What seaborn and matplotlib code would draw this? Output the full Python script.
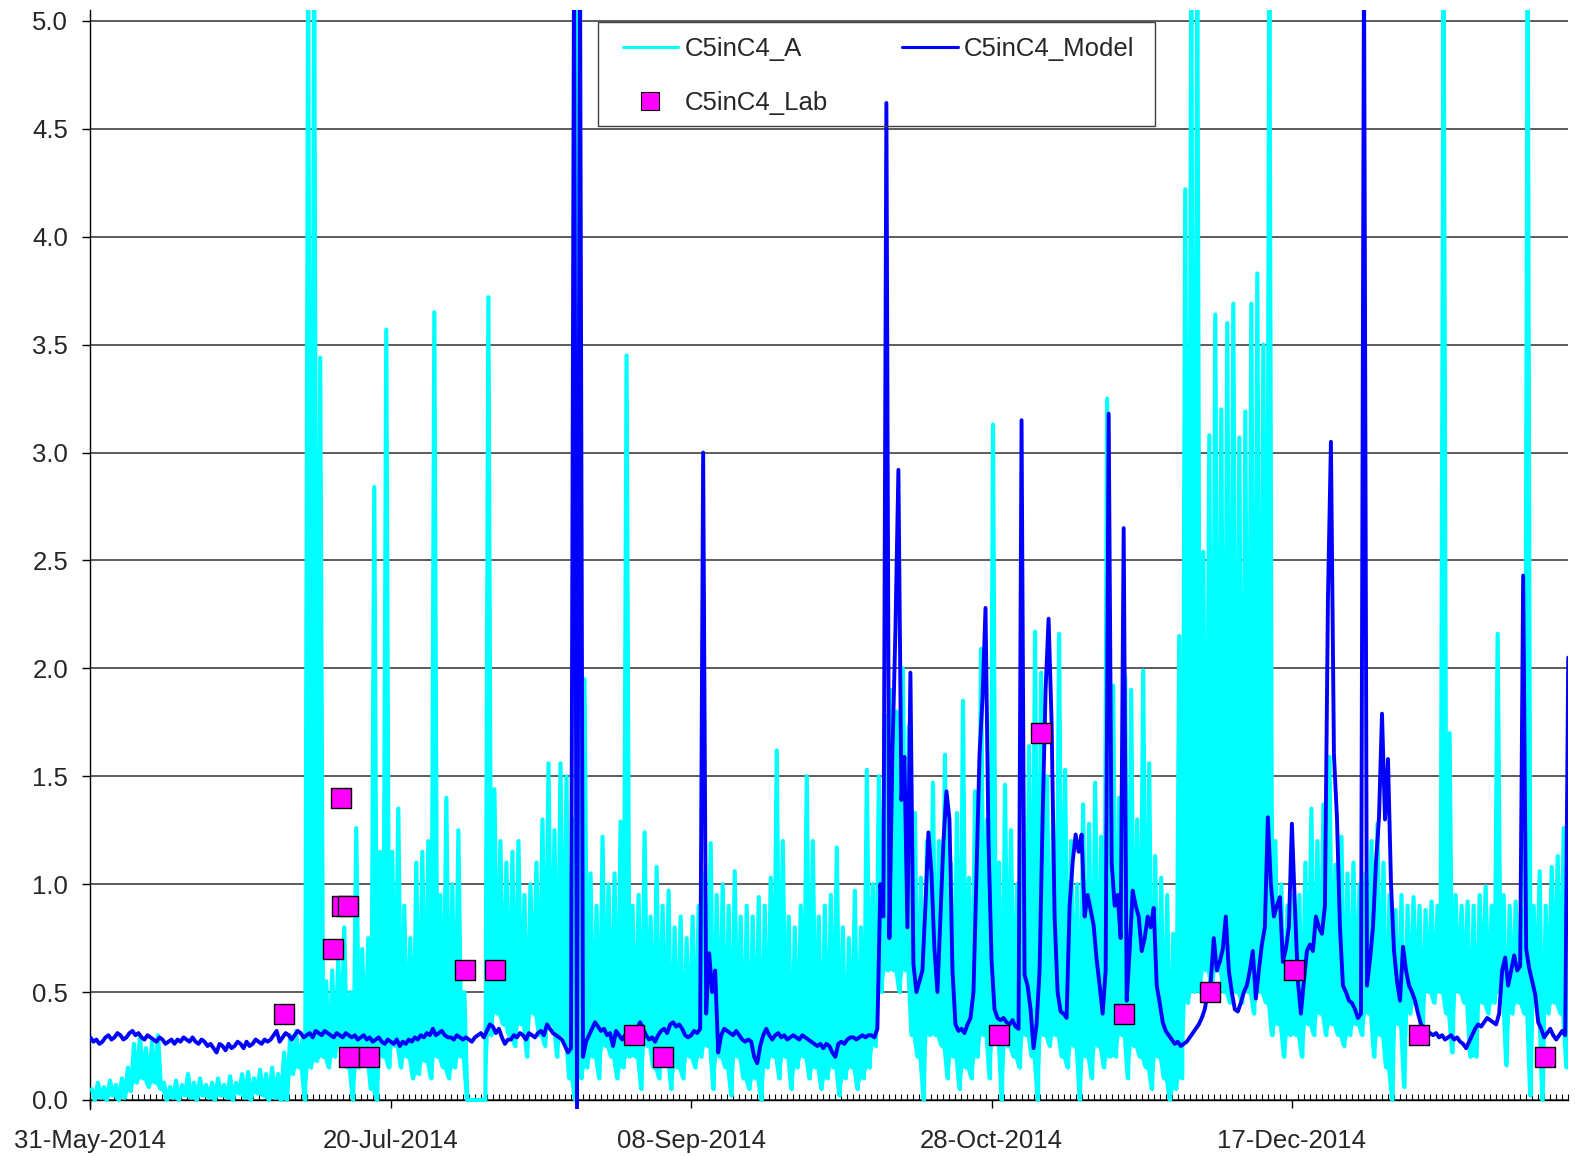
import numpy as np
import pandas as pd
import matplotlib
matplotlib.use("Agg")
import matplotlib.pyplot as plt
import matplotlib.dates as mdates
from matplotlib.lines import Line2D
from matplotlib.patches import Rectangle
import seaborn as sns

# Datas: dias a partir de 31-May-2014
start = pd.Timestamp("2014-05-31")
n_days = 246

# C5inC4_A: máximo e mínimo lidos por dia (dia 0 .. 245)
cyan_hi = [
    0.05, 0.08, 0.06, 0.09, 0.07, 0.1, 0.15, 0.26, 0.3, 0.24,
    0.27, 0.3, 0.08, 0.06, 0.09, 0.07, 0.12, 0.08, 0.1, 0.07,
    0.08, 0.1, 0.07, 0.11, 0.08, 0.12, 0.13, 0.1, 0.14, 0.12,
    0.15, 0.12, 0.22, 0.3, 0.32, 0.28, 5.3, 5.3, 3.44, 0.55,
    0.6, 0.65, 0.8, 0.5, 1.26, 0.7, 0.75, 2.84, 1.15, 3.57,
    1.15, 1.35, 0.9, 0.75, 1.1, 1.15, 1.2, 3.65, 0.95, 1.4,
    1.0, 1.25, 0.5, 0.0, 0.0, 0.0, 3.72, 1.44, 1.2, 1.1,
    1.15, 1.2, 0.95, 1.0, 1.1, 1.3, 1.56, 1.25, 1.56, 1.5,
    1.3, 5.3, 1.95, 1.05, 0.9, 1.22, 1.0, 1.05, 1.29, 3.45,
    0.9, 0.95, 1.24, 0.85, 1.08, 0.9, 0.97, 0.8, 0.85, 0.75,
    0.85, 0.9, 1.05, 1.19, 0.95, 1.0, 0.9, 1.06, 0.85, 0.9,
    0.85, 0.94, 0.9, 1.03, 1.62, 1.2, 0.85, 0.8, 0.9, 1.5,
    1.2, 0.85, 0.9, 0.95, 1.17, 0.8, 0.75, 0.97, 0.8, 1.53,
    1.0, 1.5, 1.78, 1.9, 1.8, 2.0, 1.73, 1.33, 1.03, 1.2,
    1.47, 1.2, 1.6, 1.1, 1.33, 1.85, 1.03, 1.43, 2.09, 1.3,
    3.13, 1.1, 1.46, 1.25, 1.0, 1.2, 1.64, 2.17, 1.98, 1.5,
    1.3, 2.16, 1.53, 1.2, 1.0, 1.37, 1.28, 1.47, 1.22, 3.25,
    1.92, 1.4, 1.96, 1.9, 1.3, 1.99, 1.56, 1.13, 1.03, 0.95,
    0.77, 2.15, 4.22, 5.3, 5.3, 2.54, 3.08, 3.64, 3.2, 3.6,
    3.69, 3.07, 3.19, 3.69, 3.83, 3.5, 5.3, 1.2, 1.0, 0.9,
    0.95, 0.95, 1.1, 1.35, 1.2, 1.37, 1.59, 1.09, 1.22, 1.05,
    1.1, 1.0, 1.05, 1.2, 1.28, 1.1, 0.95, 0.88, 0.95, 0.9,
    0.94, 0.9, 0.88, 0.92, 0.9, 5.3, 1.7, 0.95, 0.9, 0.92,
    0.9, 0.95, 0.99, 0.9, 2.16, 0.95, 0.9, 0.92, 0.88, 5.3,
    0.9, 1.06, 0.9, 1.08, 1.13, 1.26,
]
cyan_lo = [
    0.0, 0.01, 0.0, 0.02, 0.0, 0.01, 0.04, 0.08, 0.1, 0.06,
    0.08, 0.05, 0.0, 0.01, 0.0, 0.02, 0.01, 0.0, 0.02, 0.01,
    0.0, 0.02, 0.01, 0.0, 0.03, 0.01, 0.0, 0.03, 0.02, 0.0,
    0.01, 0.0, 0.0, 0.12, 0.15, 0.0, 0.15, 0.18, 0.2, 0.15,
    0.2, 0.25, 0.15, 0.0, 0.15, 0.2, 0.05, 0.0, 0.2, 0.15,
    0.25, 0.15, 0.2, 0.1, 0.12, 0.18, 0.1, 0.2, 0.15, 0.1,
    0.15, 0.2, 0.0, 0.0, 0.0, 0.0, 0.3, 0.4, 0.35, 0.3,
    0.25, 0.35, 0.2, 0.4, 0.3, 0.25, 0.35, 0.2, 0.3, 0.1,
    0.0, 0.1, 0.15, 0.2, 0.1, 0.25, 0.2, 0.1, 0.15, 0.2,
    0.2, 0.05, 0.25, 0.15, 0.1, 0.2, 0.05, 0.15, 0.1, 0.2,
    0.15, 0.2, 0.25, 0.05, 0.2, 0.15, 0.02, 0.2, 0.1, 0.05,
    0.1, 0.0, 0.15, 0.2, 0.1, 0.2, 0.05, 0.15, 0.2, 0.1,
    0.15, 0.05, 0.1, 0.15, 0.02, 0.1, 0.15, 0.05, 0.1, 0.15,
    0.25, 0.5, 0.6, 0.6, 0.5, 0.6, 0.3, 0.2, 0.0, 0.3,
    0.3, 0.25, 0.1, 0.2, 0.05, 0.15, 0.1, 0.2, 0.3, 0.1,
    0.3, 0.0, 0.25, 0.2, 0.15, 0.3, 0.2, 0.0, 0.3, 0.25,
    0.3, 0.2, 0.15, 0.25, 0.0, 0.2, 0.1, 0.25, 0.15, 0.2,
    0.2, 0.3, 0.1, 0.25, 0.2, 0.15, 0.05, 0.2, 0.1, 0.0,
    0.05, 0.1, 0.45, 0.5, 0.5, 0.6, 0.5, 0.6, 0.5, 0.45,
    0.5, 0.45, 0.5, 0.4, 0.5, 0.45, 0.3, 0.35, 0.2, 0.3,
    0.3, 0.2, 0.35, 0.3, 0.4, 0.3, 0.35, 0.3, 0.25, 0.3,
    0.35, 0.3, 0.4, 0.2, 0.3, 0.15, 0.0, 0.35, 0.06, 0.4,
    0.45, 0.26, 0.5, 0.45, 0.5, 0.4, 0.22, 0.5, 0.45, 0.2,
    0.2, 0.45, 0.4, 0.45, 0.5, 0.16, 0.4, 0.45, 0.4, 0.02,
    0.45, 0.0, 0.4, 0.45, 0.4, 0.15,
]

# C5inC4_Model: duas leituras por dia (meio-dia de passo)
model_val = [
    0.29, 0.27, 0.28, 0.26, 0.27, 0.29, 0.3, 0.28, 0.29, 0.31, 0.3, 0.28, 0.29, 0.31, 0.32, 0.3, 0.31, 0.29, 0.28, 0.3,
    0.29, 0.28, 0.27, 0.29, 0.28, 0.26, 0.27, 0.28, 0.26, 0.28, 0.27, 0.29, 0.28, 0.27, 0.29, 0.27, 0.26, 0.28, 0.27, 0.25,
    0.26, 0.24, 0.22, 0.26, 0.25, 0.23, 0.26, 0.24, 0.25, 0.27, 0.26, 0.24, 0.27, 0.25, 0.26, 0.28, 0.27, 0.26, 0.28, 0.27,
    0.28, 0.3, 0.32, 0.27, 0.29, 0.31, 0.3, 0.28, 0.3, 0.32, 0.31, 0.29, 0.3, 0.31, 0.29, 0.32, 0.31, 0.3, 0.32, 0.31,
    0.3, 0.29, 0.31, 0.3, 0.29, 0.31, 0.3, 0.29, 0.3, 0.28, 0.29, 0.3, 0.28, 0.29, 0.27, 0.28, 0.29, 0.27, 0.26, 0.28,
    0.27, 0.26, 0.28, 0.25, 0.27, 0.26, 0.28, 0.27, 0.29, 0.28, 0.3, 0.29, 0.31, 0.3, 0.33, 0.3, 0.31, 0.32, 0.3, 0.29,
    0.29, 0.28, 0.3, 0.29, 0.28, 0.29, 0.28, 0.27, 0.29, 0.3, 0.31, 0.29, 0.32, 0.35, 0.34, 0.31, 0.33, 0.29, 0.26, 0.28,
    0.28, 0.3, 0.29, 0.31, 0.3, 0.28, 0.31, 0.3, 0.29, 0.31, 0.32, 0.3, 0.35, 0.33, 0.31, 0.3, 0.29, 0.28, 0.25, 0.22,
    0.24, 5.3, -0.04, 5.3, 0.2, 0.27, 0.3, 0.33, 0.36, 0.34, 0.32, 0.33, 0.3, 0.31, 0.25, 0.32, 0.3, 0.28, 0.3, 0.27,
    0.3, 0.31, 0.33, 0.36, 0.33, 0.3, 0.28, 0.29, 0.27, 0.3, 0.32, 0.33, 0.31, 0.35, 0.36, 0.34, 0.35, 0.33, 0.3, 0.29,
    0.3, 0.32, 0.31, 0.33, 3.0, 0.4, 0.68, 0.5, 0.6, 0.22, 0.3, 0.33, 0.32, 0.31, 0.3, 0.32, 0.3, 0.28, 0.27, 0.28,
    0.27, 0.2, 0.17, 0.25, 0.3, 0.33, 0.3, 0.28, 0.3, 0.31, 0.29, 0.3, 0.28, 0.29, 0.3, 0.29, 0.28, 0.3, 0.29, 0.28,
    0.27, 0.26, 0.25, 0.26, 0.24, 0.26, 0.25, 0.22, 0.2, 0.26, 0.27, 0.26, 0.28, 0.29, 0.29, 0.28, 0.29, 0.3, 0.29, 0.3,
    0.3, 0.29, 0.33, 1.0, 0.85, 4.62, 0.75, 1.6, 2.17, 2.92, 1.39, 1.59, 0.8, 1.98, 0.63, 0.5, 0.55, 0.6, 0.9, 1.24,
    1.05, 0.7, 0.5, 0.85, 1.2, 1.43, 1.3, 0.6, 0.35, 0.32, 0.33, 0.31, 0.35, 0.38, 0.5, 1.05, 1.6, 1.86, 2.28, 1.2,
    0.65, 0.42, 0.38, 0.37, 0.38, 0.36, 0.35, 0.37, 0.34, 0.33, 3.15, 0.58, 0.53, 0.42, 0.24, 0.35, 0.6, 1.3, 1.9, 2.23,
    1.75, 0.85, 0.5, 0.41, 0.4, 0.38, 0.9, 1.1, 1.23, 1.15, 1.23, 0.85, 0.95, 0.88, 0.81, 0.65, 0.53, 0.4, 0.6, 3.18,
    1.1, 0.9, 0.95, 0.75, 2.65, 0.46, 0.7, 0.97, 0.9, 0.85, 0.69, 0.75, 0.85, 0.8, 0.89, 0.53, 0.45, 0.36, 0.32, 0.3,
    0.28, 0.26, 0.27, 0.25, 0.26, 0.27, 0.29, 0.31, 0.33, 0.35, 0.38, 0.42, 0.5, 0.55, 0.75, 0.6, 0.64, 0.7, 0.85, 0.6,
    0.5, 0.42, 0.41, 0.45, 0.5, 0.53, 0.6, 0.69, 0.47, 0.6, 0.72, 0.8, 1.31, 1.0, 0.85, 0.9, 0.94, 0.64, 0.7, 0.8,
    1.28, 0.9, 0.55, 0.4, 0.55, 0.69, 0.72, 0.69, 0.85, 0.8, 0.77, 0.9, 2.32, 3.05, 1.6, 1.31, 0.8, 0.53, 0.5, 0.46,
    0.45, 0.42, 0.38, 0.4, 5.3, 0.53, 0.65, 0.8, 1.1, 1.31, 1.79, 1.3, 1.58, 1.0, 0.69, 0.55, 0.46, 0.71, 0.6, 0.53,
    0.5, 0.46, 0.4, 0.35, 0.33, 0.32, 0.31, 0.3, 0.31, 0.29, 0.3, 0.28, 0.29, 0.3, 0.28, 0.29, 0.27, 0.26, 0.24, 0.27,
    0.3, 0.33, 0.35, 0.34, 0.36, 0.38, 0.37, 0.36, 0.35, 0.4, 0.6, 0.66, 0.53, 0.6, 0.67, 0.6, 0.62, 2.43, 0.7, 0.61,
    0.55, 0.49, 0.36, 0.33, 0.29, 0.31, 0.33, 0.3, 0.28, 0.3, 0.32, 0.3, 2.05,
]

# C5inC4_Lab: amostras de laboratório (dia, valor)
lab_day = [32.2, 40.4, 41.7, 41.9, 42.9, 43.0, 46.3, 62.3, 67.3, 90.5,
           95.3, 151.2, 158.2, 172.1, 186.3, 200.3, 221.2, 242.2]
lab_val = [0.4, 0.7, 1.4, 0.9, 0.9, 0.2, 0.2, 0.6, 0.6, 0.3,
           0.2, 0.3, 1.7, 0.4, 0.5, 0.6, 0.3, 0.2]

CYAN = "#00FFFF"
BLUE = "#0000FF"
MAGENTA = "#FF00FF"

# monta as séries no tempo
a_days, a_vals, a_floor = [], [], []
for d in range(len(cyan_hi)):
    a_days += [d + 0.25, d + 0.75]
    a_vals += [cyan_hi[d], cyan_lo[d]]
    a_floor += [cyan_lo[d], cyan_lo[d]]
df_a = pd.DataFrame({"t": start + pd.to_timedelta(a_days, unit="D"), "v": a_vals,
                     "floor": a_floor})
df_m = pd.DataFrame({"t": start + pd.to_timedelta(np.arange(len(model_val)) * 0.5, unit="D"),
                     "v": model_val})
df_lab = pd.DataFrame({"t": start + pd.to_timedelta(lab_day, unit="D"), "v": lab_val})

sns.set_theme(style="white")
plt.rcParams["font.family"] = ["Liberation Sans", "DejaVu Sans"]
plt.rcParams["path.simplify"] = False

fig = plt.figure(figsize=(15.75, 11.56), dpi=100)
ax = fig.add_axes([0.0574, 0.0410, 0.9383, 0.9502])

# banda diária (mínimo -> leituras) para o núcleo ficar cheio como no original
ax.fill_between(df_a["t"], df_a["floor"], df_a["v"], color=CYAN, lw=0, zorder=3)
sns.lineplot(data=df_a, x="t", y="v", ax=ax, color=CYAN, linewidth=3.0,
             estimator=None, sort=False, zorder=3)
sns.lineplot(data=df_m, x="t", y="v", ax=ax, color=BLUE, linewidth=2.8,
             estimator=None, sort=False, zorder=4)
sns.scatterplot(data=df_lab, x="t", y="v", ax=ax, marker="s", s=205,
                color=MAGENTA, edgecolor="black", linewidth=1.0, zorder=5)

ax.set_xlim(start, start + pd.Timedelta(days=n_days))
ax.set_ylim(-0.04, 5.05)
ax.set_xlabel("")
ax.set_ylabel("")

ax.set_xticks([start + pd.Timedelta(days=50 * k) for k in range(5)])
ax.xaxis.set_major_formatter(mdates.DateFormatter("%d-%b-%Y"))
ax.xaxis.set_minor_locator(mdates.DayLocator())
ax.set_yticks(np.arange(0, 5.01, 0.5))
ax.yaxis.set_major_formatter(matplotlib.ticker.FormatStrFormatter("%.1f"))

ax.tick_params(axis="x", which="major", direction="out", length=6, width=1.0,
               labelsize=18.5, pad=15, color="black", bottom=True)
ax.tick_params(axis="x", which="minor", direction="in", length=4, width=0.8,
               color="black", bottom=True)
ax.tick_params(axis="y", which="major", direction="out", length=6, width=1.0,
               labelsize=18.5, pad=10, color="black", left=True)

ax.yaxis.grid(True, color="#303030", linewidth=1.1)
ax.xaxis.grid(False)
ax.set_axisbelow(True)

for side in ["top", "right"]:
    ax.spines[side].set_visible(False)
ax.spines["bottom"].set_position(("data", 0))
for side in ["left", "bottom"]:
    ax.spines[side].set_color("black")
    ax.spines[side].set_linewidth(1.0)

# legenda sem fundo (os picos passam por cima), moldura desenhada à parte
handles = [
    Line2D([], [], color=CYAN, lw=2.2),
    Line2D([], [], ls="none", marker="s", markersize=12.5, mfc=MAGENTA, mec="black", mew=0.8),
    Line2D([], [], color=BLUE, lw=2.2),
]
labels = ["C5inC4_A", "C5inC4_Lab", "C5inC4_Model"]
fig.legend(handles, labels, ncol=2, loc="center left", bbox_to_anchor=(610 / 1575, 1 - 76 / 1156),
           frameon=False, borderpad=0, fontsize=18.5, handlelength=2.15, handletextpad=0.25,
           columnspacing=2.9, labelspacing=1.18)
fig.add_artist(Rectangle((598 / 1575, 1 - 126 / 1156), 557 / 1575, 104 / 1156,
                         transform=fig.transFigure, fill=False, edgecolor="#404040", lw=1.0))

fig.savefig("out.png", dpi=100)
